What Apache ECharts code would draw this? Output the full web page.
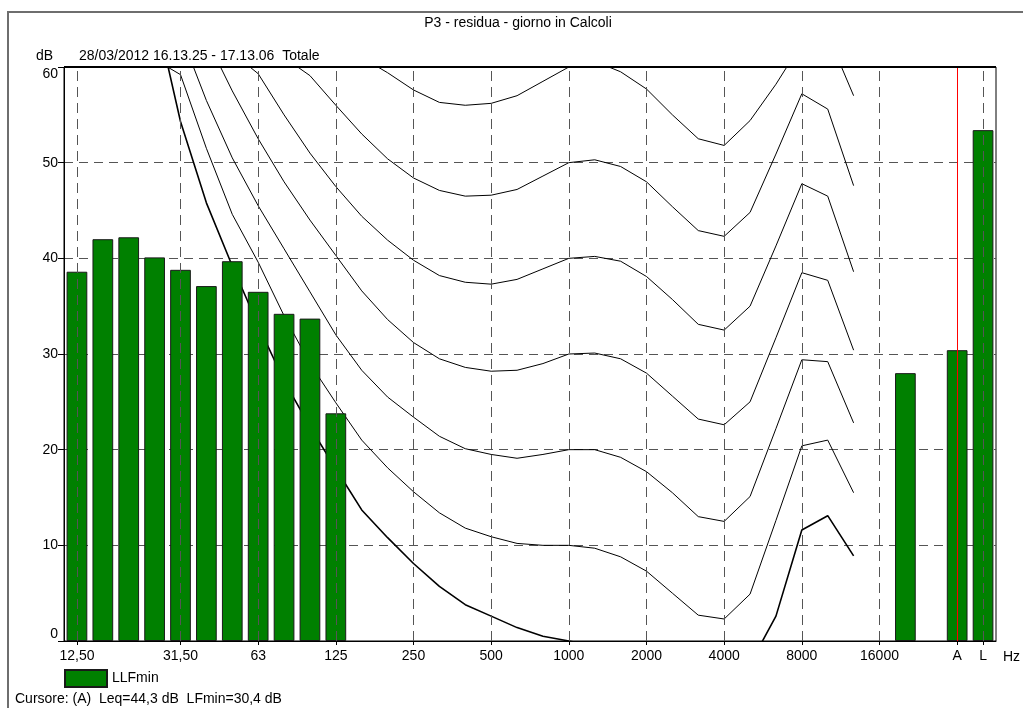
<!DOCTYPE html>
<html>
<head>
<meta charset="utf-8">
<script src="https://cdn.jsdelivr.net/npm/echarts@6/dist/echarts.min.js"></script>
<style>
html,body{margin:0;padding:0;background:#fff;}
#chart{width:1023px;height:708px;}
</style>
</head>
<body>
<div id="chart"></div>
<script>
// ---- data ----
const categories = ['12,50','16','20','25','31,50','40','50','63','80','100','125','160','200','250','315','400','500','630','800','1000','1250','1600','2000','2500','3150','4000','5000','6300','8000','10000','12500','16000','20000',' ','A','L'];
const tickLabels = ['12,50','31,50','63','125','250','500','1000','2000','4000','8000','16000','A','L'];
const gridBands = ['12,50','31,50','63','125','250','500','1000','2000','4000','8000','16000','L'];
const cursorBand = 'A';
const yTicks = [0, 10, 20, 30, 40, 50, 60];

const llfmin = [38.6, 42.0, 42.2, 40.1, 38.8, 37.1, 39.7, 36.5, 34.2, 33.7, 23.8,
  null, null, null, null, null, null, null, null, null, null, null, null, null, null, null, null, null, null, null, null, null,
  28.0, null, 30.4, 53.4];

const curve0 = [null, null, null, 66.2, 54.3, 45.8, 39.2, 33.0, 27.2, 22.4, 18.0, 13.7, 10.8, 8.1, 5.7, 3.8, 2.6, 1.4, 0.5, 0.0, -0.5, -1.5, -3.0, -5.5, -7.5, -8.0, -2.4, 2.6, 11.6, 13.1, 8.9, null, null, null, null, null];
const curve1 = [null, null, null, 60.8, 59.2, 51.5, 44.6, 39.6, 34.0, 29.0, 24.9, 21.0, 18.1, 15.6, 13.4, 11.8, 10.9, 10.2, 10.0, 10.0, 9.7, 8.8, 7.3, 5.0, 2.7, 2.3, 4.9, 12.6, 20.4, 21.0, 15.5, null, null, null, null, null];
const curve2 = [null, null, null, null, 63.5, 56.5, 50.5, 45.5, 41.0, 36.5, 32.0, 28.3, 25.5, 23.4, 21.4, 20.1, 19.5, 19.1, 19.5, 20.0, 20.0, 19.2, 17.7, 15.5, 13.0, 12.5, 15.1, 22.2, 29.4, 29.2, 22.8, null, null, null, null, null];
const curve3 = [null, null, null, null, null, 63.0, 57.5, 52.5, 48.0, 44.0, 40.3, 36.6, 33.6, 31.2, 29.5, 28.6, 28.2, 28.3, 29.0, 30.0, 30.1, 29.5, 28.0, 25.6, 23.2, 22.6, 25.0, 31.7, 38.5, 37.7, 30.4, null, null, null, null, null];
const curve4 = [null, null, null, null, null, null, 61.5, 59.3, 55.0, 51.0, 47.5, 44.4, 41.9, 39.8, 38.2, 37.5, 37.3, 37.8, 38.9, 40.0, 40.2, 39.7, 38.1, 35.7, 33.1, 32.5, 35.0, 41.3, 47.8, 46.5, 38.6, null, null, null, null, null];
const curve5 = [null, null, null, null, null, null, null, null, 61.0, 59.1, 56.0, 53.0, 50.4, 48.4, 47.1, 46.5, 46.6, 47.2, 48.6, 50.0, 50.3, 49.6, 48.0, 45.4, 42.9, 42.3, 44.8, 50.9, 57.2, 55.6, 47.6, null, null, null, null, null];
const curve6 = [null, null, null, null, null, null, null, null, null, null, null, 61.0, 59.4, 57.6, 56.3, 56.0, 56.2, 57.0, 58.5, 60.0, 60.6, 59.5, 57.7, 55.0, 52.5, 51.8, 54.4, 58.2, 62.5, 63.4, 57.0, null, null, null, null, null];

const curves = [curve0, curve1, curve2, curve3, curve4, curve5, curve6];

const titleText = 'P3 - residua - giorno in Calcoli';
const subText = '28/03/2012 16.13.25 - 17.13.06  Totale';
const cursorText = 'Cursore: (A)  Leq=44,3 dB  LFmin=30,4 dB';

// ---- chart ----
const FONT = '"Liberation Sans", Arial, sans-serif';
const chart = echarts.init(document.getElementById('chart'), null, {renderer: 'canvas'});

const curveSeries = curves.map((c, k) => ({
  type: 'line',
  data: c,
  showSymbol: false,
  symbol: 'none',
  clip: true,
  silent: true,
  z: 2,
  connectNulls: false,
  lineStyle: {color: '#000', width: k === 0 ? 1.6 : 1}
}));

const option = {
  animation: false,
  backgroundColor: '#fff',
  textStyle: {fontFamily: FONT},
  grid: {left: 64, right: 27, top: 67, bottom: 67, show: true, borderColor: '#000', borderWidth: 1},
  legend: {
    data: ['LLFmin'],
    left: 59, top: 664,
    icon: 'rect',
    itemWidth: 42, itemHeight: 17, itemGap: 10,
    textStyle: {fontSize: 14, color: '#000', fontFamily: FONT}
  },
  xAxis: {
    type: 'category',
    data: categories,
    boundaryGap: true,
    axisLine: {show: true, lineStyle: {color: '#000', width: 1}},
    axisTick: {show: true, alignWithLabel: true, length: 4, interval: (i, v) => tickLabels.includes(v), lineStyle: {color: '#000'}},
    axisLabel: {interval: (i, v) => tickLabels.includes(v), color: '#000', fontSize: 14, fontFamily: FONT, margin: 8},
    splitLine: {show: false}
  },
  yAxis: {
    type: 'value',
    min: yTicks[0], max: yTicks[yTicks.length - 1], interval: 10,
    axisLine: {show: true, lineStyle: {color: '#000', width: 1}},
    axisTick: {show: true, length: 6, lineStyle: {color: '#000'}},
    axisLabel: {color: '#000', fontSize: 14, fontFamily: FONT, margin: 6,
      verticalAlignMinLabel: 'bottom', verticalAlignMaxLabel: 'top'},
    splitLine: {show: true, lineStyle: {type: [9, 6], color: '#555', width: 1}}
  },
  series: [
    {
      type: 'line',
      name: 'grid',
      data: categories.map(() => null),
      silent: true,
      z: 1,
      markLine: {
        silent: true,
        symbol: 'none',
        label: {show: false},
        lineStyle: {type: [10, 6], color: '#555', width: 1},
        data: gridBands.map(b => ({xAxis: b}))
      }
    },
    {
      type: 'line',
      name: 'cursor',
      data: categories.map(() => null),
      silent: true,
      z: 4,
      markLine: {
        silent: true,
        symbol: 'none',
        label: {show: false},
        lineStyle: {type: 'solid', color: '#ff0000', width: 1},
        data: [{xAxis: cursorBand}]
      }
    },
    {
      type: 'line',
      name: 'top',
      data: categories.map(() => null),
      silent: true,
      z: 5,
      markLine: {
        silent: true,
        symbol: 'none',
        label: {show: false},
        lineStyle: {type: 'solid', color: '#000', width: 2},
        data: [{yAxis: yTicks[yTicks.length - 1]}]
      }
    },
    ...curveSeries,
    {
      type: 'bar',
      name: 'LLFmin',
      data: llfmin,
      barWidth: '80%',
      z: 3,
      itemStyle: {color: '#008000', borderColor: '#1a1a1a', borderWidth: 1}
    }
  ],
  graphic: [
    {type: 'polyline', shape: {points: [[8, 708], [8, 12], [1023, 12]]}, style: {stroke: '#6e6e6e', lineWidth: 2, fill: null}, z: 10},
    {type: 'text', x: 518, y: 23, style: {text: titleText, font: '14px ' + FONT, fill: '#000', textAlign: 'center', textVerticalAlign: 'middle'}},
    {type: 'text', x: 53, y: 56, style: {text: 'dB', font: '14px ' + FONT, fill: '#000', textAlign: 'right', textVerticalAlign: 'middle'}},
    {type: 'text', x: 79, y: 56, style: {text: subText, font: '14px ' + FONT, fill: '#000', textAlign: 'left', textVerticalAlign: 'middle'}},
    {type: 'text', x: 1003, y: 657, style: {text: 'Hz', font: '14px ' + FONT, fill: '#000', textAlign: 'left', textVerticalAlign: 'middle'}},
    {type: 'text', x: 15, y: 699, style: {text: cursorText, font: '14px ' + FONT, fill: '#000', textAlign: 'left', textVerticalAlign: 'middle'}}
  ]
};
chart.setOption(option);
</script>
</body>
</html>
